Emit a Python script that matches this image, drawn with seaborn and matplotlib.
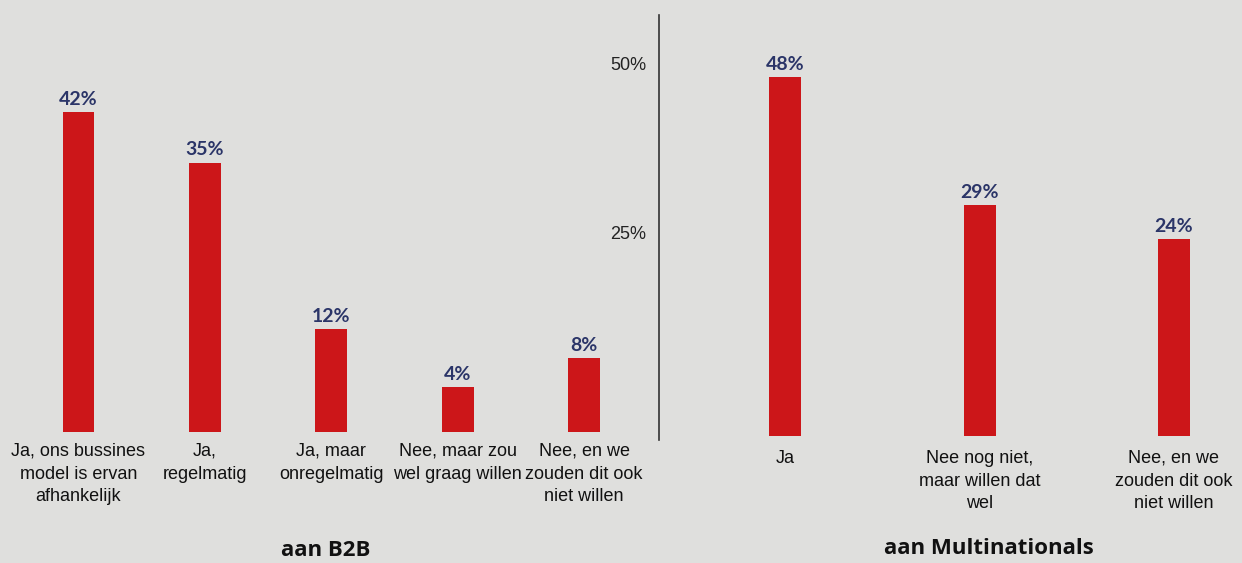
import matplotlib
matplotlib.use("Agg")
import matplotlib.pyplot as plt
import seaborn as sns
import pandas as pd

b2b_categories = ["Ja, ons bussines\nmodel is ervan\nafhankelijk", "Ja,\nregelmatig",
                  "Ja, maar\nonregelmatig", "Nee, maar zou\nwel graag willen",
                  "Nee, en we\nzouden dit ook\nniet willen"]
b2b_values = [42, 35, 12, 4, 8]

multi_categories = ["Ja", "Nee nog niet,\nmaar willen dat\nwel", "Nee, en we\nzouden dit ook\nniet willen"]
multi_values = [48, 29, 24]

y_ticks = [25, 50]
y_tick_labels = ["25%", "50%"]

group_titles = ["aan B2B", "aan Multinationals"]

BG = "#dfdfdd"
RED = "#cc1619"
NAVY = "#2b3568"

sns.set_theme(style="white")
plt.rcParams["font.family"] = ["Liberation Sans", "DejaVu Sans"]

fig = plt.figure(figsize=(12.42, 5.63), dpi=100)
fig.patch.set_facecolor(BG)

ax1 = fig.add_axes([0.0, 1 - 440 / 563, 655 / 1242, 425 / 563])
ax2 = fig.add_axes([659 / 1242, 1 - 440 / 563, 583 / 1242, 425 / 563])

df1 = pd.DataFrame({"cat": b2b_categories, "val": b2b_values})
df2 = pd.DataFrame({"cat": multi_categories, "val": multi_values})

sns.barplot(data=df1, x="cat", y="val", color=RED, width=0.25, saturation=1,
            linewidth=0, ax=ax1)
sns.barplot(data=df2, x="cat", y="val", color=RED, width=0.165, saturation=1,
            linewidth=0, ax=ax2)

# bars in the original extend a little below the zero line
base_offsets = {ax1: -2.2, ax2: -5.2}

for ax, vals in ((ax1, b2b_values), (ax2, multi_values)):
    ax.set_facecolor(BG)
    ax.set_xlabel("")
    ax.set_ylabel("")
    off = base_offsets[ax]
    for p in ax.patches:
        h = p.get_height()
        p.set_y(off)
        p.set_height(h - off)
    for c in ax.containers:
        ax.bar_label(c, labels=[f"{v}%" for v in vals], padding=3, color=NAVY,
                     fontsize=14, fontweight="bold", family="Lato")
    for s in ax.spines.values():
        s.set_visible(False)
    for lab in ax.get_xticklabels():
        lab.set_linespacing(1.45)

ax1.tick_params(axis="x", length=0, pad=2, labelsize=13, labelcolor="#111111")
ax2.tick_params(axis="x", length=0, pad=7, labelsize=13, labelcolor="#111111")

ax1.set_xlim(-0.62, 4.56)
ax1.set_ylim(-3.32, 55.4)
ax1.set_yticks([])

ax2.set_xlim(-0.65, 2.35)
ax2.set_ylim(-5.78, 57.2)
ax2.set_yticks(y_ticks)
ax2.set_yticklabels(y_tick_labels)
ax2.tick_params(axis="y", length=0, pad=9, labelsize=13, labelcolor="#222222")
ax2.spines["left"].set_visible(True)
ax2.spines["left"].set_color("#333333")
ax2.spines["left"].set_linewidth(1.2)

fig.text(326 / 1242, 1 - 550 / 563, group_titles[0], ha="center", va="center",
         fontsize=16, fontweight="bold", family="Open Sans", color="#111111")
fig.text(989 / 1242, 1 - 549 / 563, group_titles[1], ha="center", va="center",
         fontsize=16, fontweight="bold", family="Open Sans", color="#111111")

fig.savefig("out.png", dpi=100, facecolor=BG)
